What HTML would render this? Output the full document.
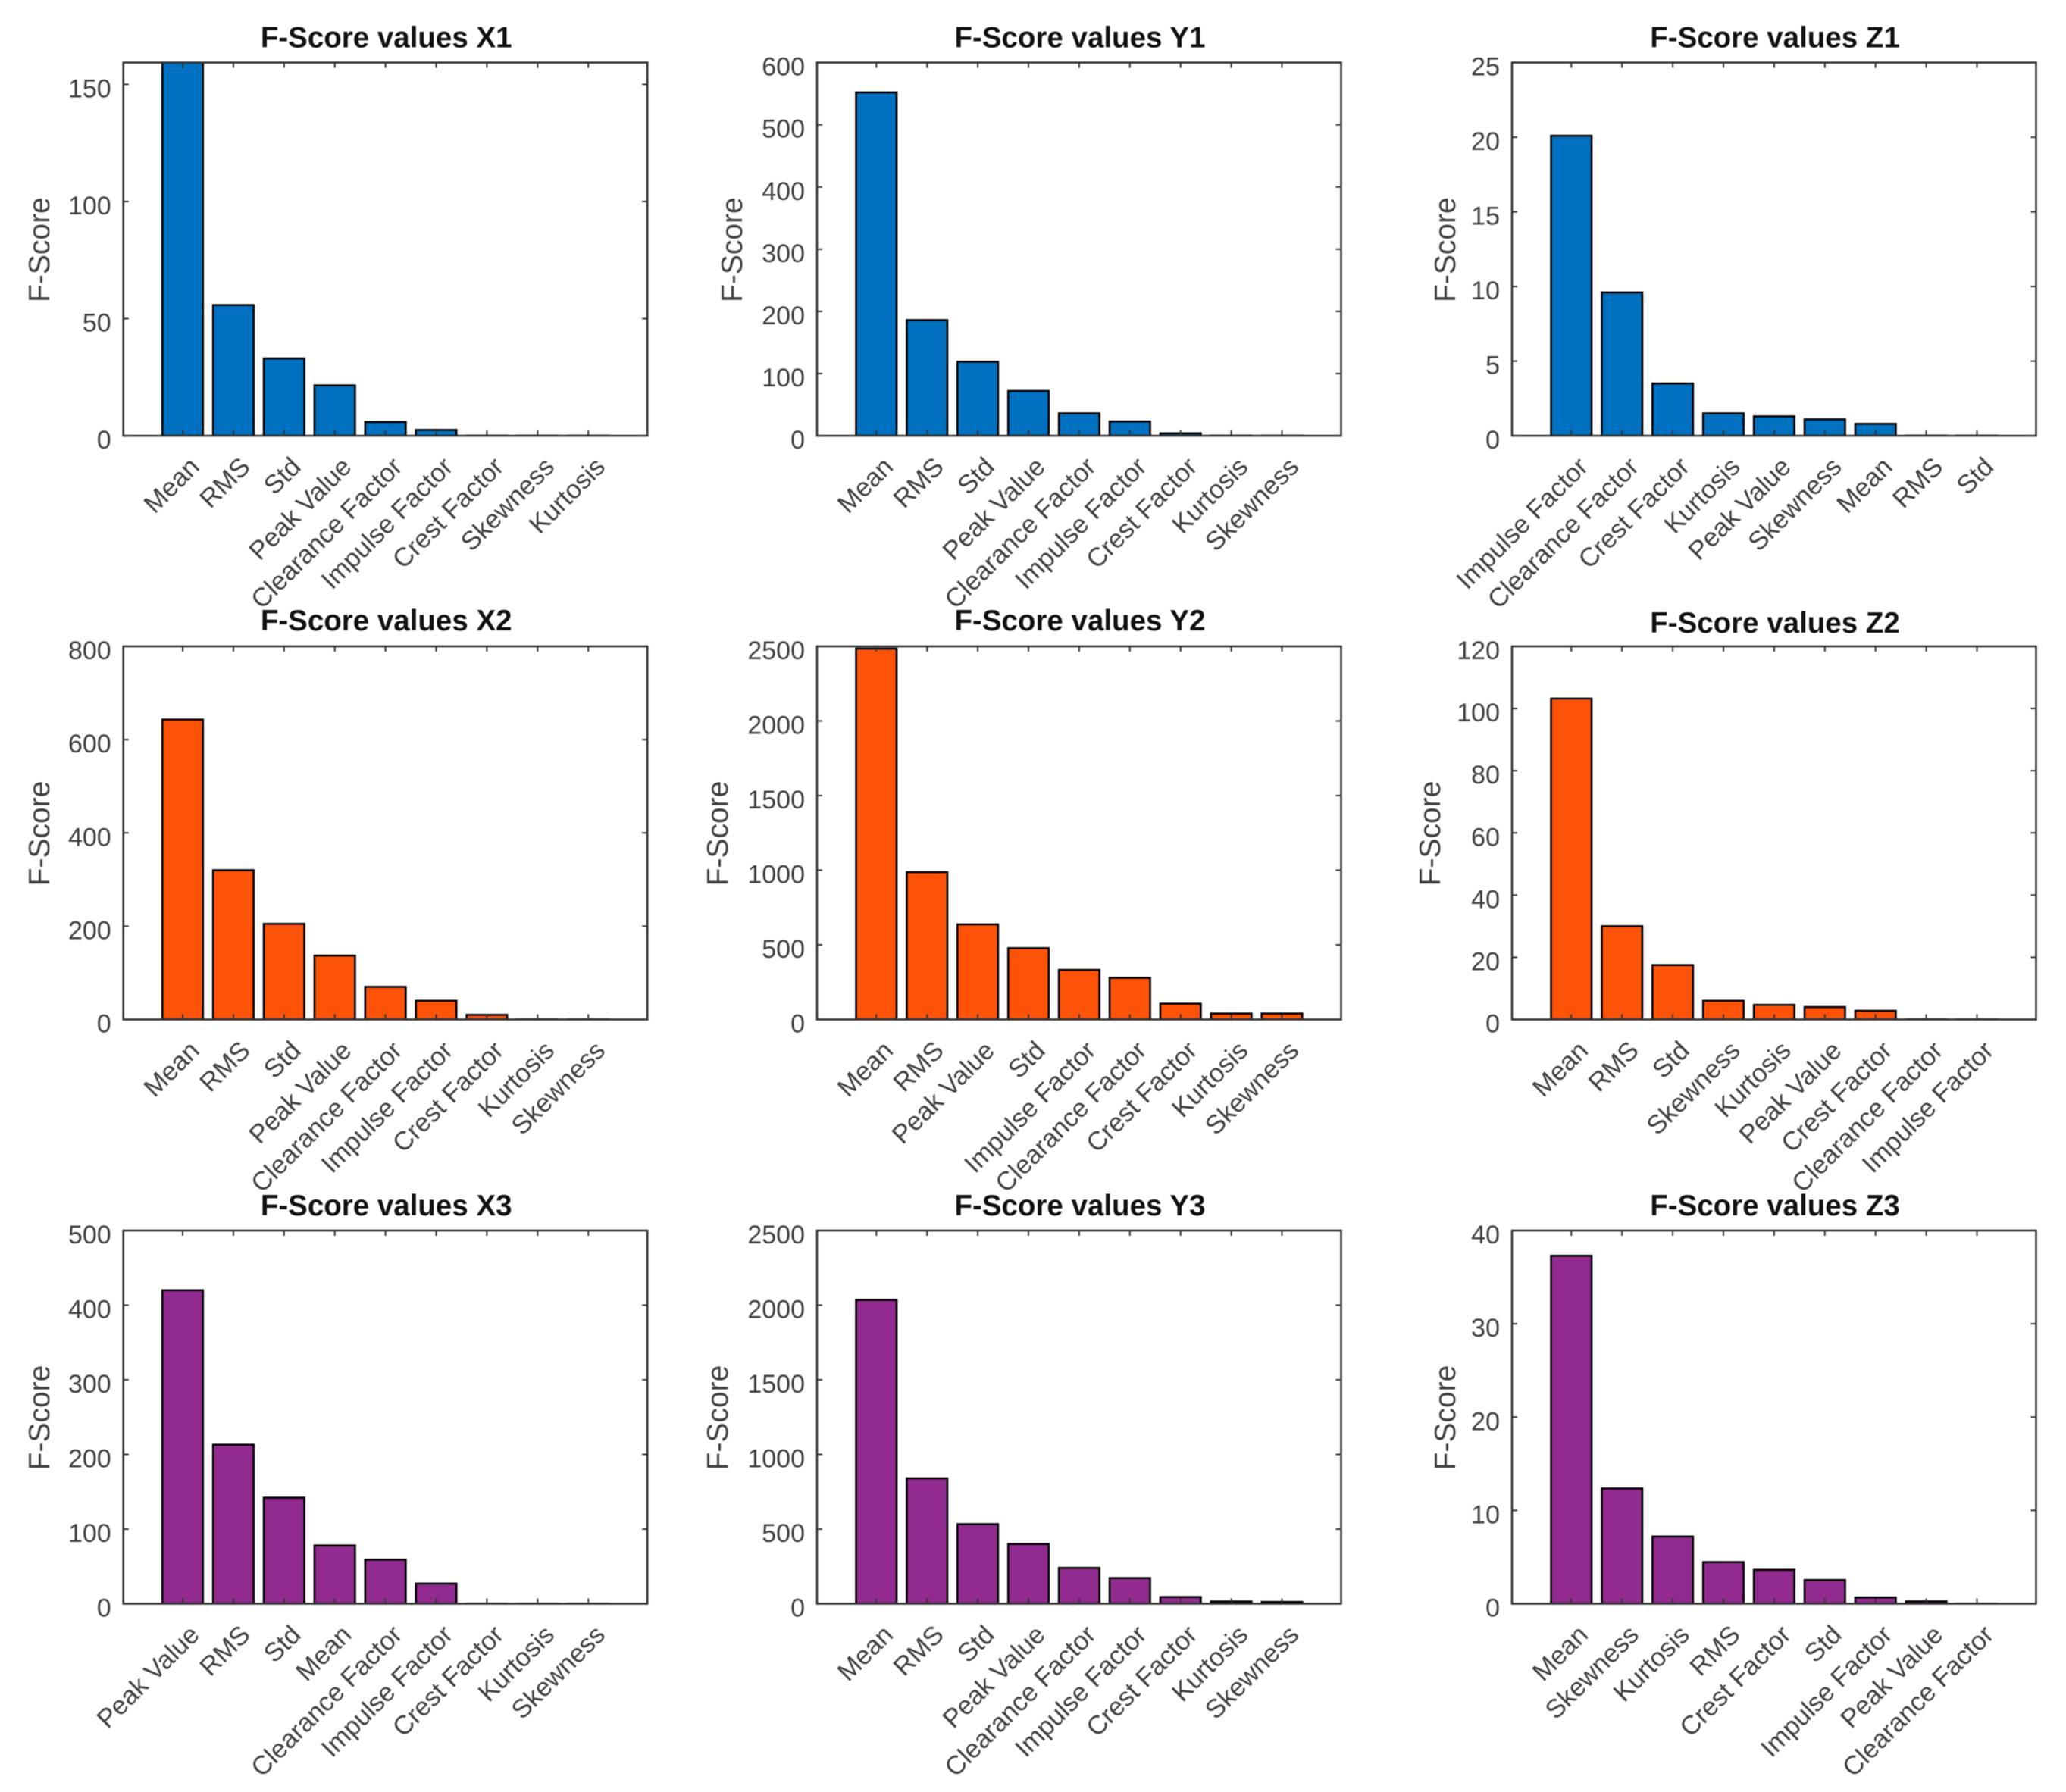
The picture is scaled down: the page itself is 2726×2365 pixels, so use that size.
<!DOCTYPE html>
<html>
<head>
<meta charset="utf-8">
<title>F-Score values</title>
<style>
html,body{margin:0;padding:0;background:#fff;}
#figure{display:block;width:2726px;height:2365px;filter:blur(0.6px);}
text{font-family:"Liberation Sans",Arial,sans-serif;}
</style>
</head>
<body>
<svg id="figure" xmlns="http://www.w3.org/2000/svg" width="2726" height="2365" viewBox="0 0 2726 2365"></svg>
<script>
const categoriesX1 = ['Mean','RMS','Std','Peak Value','Clearance Factor','Impulse Factor','Crest Factor','Skewness','Kurtosis'];
const valuesX1 = [160,55.8,33,21.5,5.9,2.5,0.05,0.03,0.02];
const ticksX1 = [0,50,100,150];
const ymaxX1 = 159.3;

const categoriesY1 = ['Mean','RMS','Std','Peak Value','Clearance Factor','Impulse Factor','Crest Factor','Kurtosis','Skewness'];
const valuesY1 = [552,186,119,72,36,23,4,0.2,0.1];
const ticksY1 = [0,100,200,300,400,500,600];
const ymaxY1 = 600;

const categoriesZ1 = ['Impulse Factor','Clearance Factor','Crest Factor','Kurtosis','Peak Value','Skewness','Mean','RMS','Std'];
const valuesZ1 = [20.1,9.6,3.5,1.5,1.3,1.1,0.8,0.01,0.008];
const ticksZ1 = [0,5,10,15,20,25];
const ymaxZ1 = 25;

const categoriesX2 = ['Mean','RMS','Std','Peak Value','Clearance Factor','Impulse Factor','Crest Factor','Kurtosis','Skewness'];
const valuesX2 = [643,320,205,137,70,40,10,0.3,0.2];
const ticksX2 = [0,200,400,600,800];
const ymaxX2 = 800;

const categoriesY2 = ['Mean','RMS','Peak Value','Std','Impulse Factor','Clearance Factor','Crest Factor','Kurtosis','Skewness'];
const valuesY2 = [2485,987,637,478,332,279,106,40,40];
const ticksY2 = [0,500,1000,1500,2000,2500];
const ymaxY2 = 2500;

const categoriesZ2 = ['Mean','RMS','Std','Skewness','Kurtosis','Peak Value','Crest Factor','Clearance Factor','Impulse Factor'];
const valuesZ2 = [103.2,30,17.5,6,4.7,4,2.8,0.05,0.02];
const ticksZ2 = [0,20,40,60,80,100,120];
const ymaxZ2 = 120;

const categoriesX3 = ['Peak Value','RMS','Std','Mean','Clearance Factor','Impulse Factor','Crest Factor','Kurtosis','Skewness'];
const valuesX3 = [420,213,142,78,59,27,0.2,0.15,0.1];
const ticksX3 = [0,100,200,300,400,500];
const ymaxX3 = 500;

const categoriesY3 = ['Mean','RMS','Std','Peak Value','Clearance Factor','Impulse Factor','Crest Factor','Kurtosis','Skewness'];
const valuesY3 = [2035,840,533,400,240,172,45,15,12];
const ticksY3 = [0,500,1000,1500,2000,2500];
const ymaxY3 = 2500;

const categoriesZ3 = ['Mean','Skewness','Kurtosis','RMS','Crest Factor','Std','Impulse Factor','Peak Value','Clearance Factor'];
const valuesZ3 = [37.3,12.35,7.2,4.46,3.63,2.54,0.67,0.25,0.01];
const ticksZ3 = [0,10,20,30,40];
const ymaxZ3 = 40;

const panels = [
  {id:'x1',title:'F-Score values X1',cats:categoriesX1,vals:valuesX1,ticks:ticksX1,ymax:ymaxX1,col:0,row:0,color:'#0070c0',ylabelX:52,titleDy:0},
  {id:'y1',title:'F-Score values Y1',cats:categoriesY1,vals:valuesY1,ticks:ticksY1,ymax:ymaxY1,col:1,row:0,color:'#0070c0',ylabelX:966,titleDy:0},
  {id:'z1',title:'F-Score values Z1',cats:categoriesZ1,vals:valuesZ1,ticks:ticksZ1,ymax:ymaxZ1,col:2,row:0,color:'#0070c0',ylabelX:1907,titleDy:0},
  {id:'x2',title:'F-Score values X2',cats:categoriesX2,vals:valuesX2,ticks:ticksX2,ymax:ymaxX2,col:0,row:1,color:'#fd5308',ylabelX:52,titleDy:-1},
  {id:'y2',title:'F-Score values Y2',cats:categoriesY2,vals:valuesY2,ticks:ticksY2,ymax:ymaxY2,col:1,row:1,color:'#fd5308',ylabelX:947,titleDy:-1},
  {id:'z2',title:'F-Score values Z2',cats:categoriesZ2,vals:valuesZ2,ticks:ticksZ2,ymax:ymaxZ2,col:2,row:1,color:'#fd5308',ylabelX:1887,titleDy:2},
  {id:'x3',title:'F-Score values X3',cats:categoriesX3,vals:valuesX3,ticks:ticksX3,ymax:ymaxX3,col:0,row:2,color:'#922b8f',ylabelX:52,titleDy:0},
  {id:'y3',title:'F-Score values Y3',cats:categoriesY3,vals:valuesY3,ticks:ticksY3,ymax:ymaxY3,col:1,row:2,color:'#922b8f',ylabelX:947,titleDy:0},
  {id:'z3',title:'F-Score values Z3',cats:categoriesZ3,vals:valuesZ3,ticks:ticksZ3,ymax:ymaxZ3,col:2,row:2,color:'#922b8f',ylabelX:1907,titleDy:0}
];

const colLeft = [162.7,1078,1995];
const rowTop = [82.6,853,1624];
const axW = 691.5;
const axH = 492.5;
const NS = 'http://www.w3.org/2000/svg';
const svg = document.getElementById('figure');

function make(tag, attrs, parent, txt){
  const el = document.createElementNS(NS, tag);
  for (const k in attrs) el.setAttribute(k, attrs[k]);
  if (txt !== undefined) el.textContent = txt;
  parent.appendChild(el);
  return el;
}

function drawPanel(p, idx){
  const L = colLeft[p.col], T = rowTop[p.row], B = T + axH, R = L + axW;
  const unit = 66.9;
  const xScale = i => L + 78.3 + unit * i;
  const yScale = v => B - (v / p.ymax) * axH;

  const g = make('g', {}, svg);
  
  

  const clipId = 'clip-' + p.id;
  const defs = make('defs', {}, g);
  const cp = make('clipPath', {id: clipId}, defs);
  make('rect', {x: L, y: T, width: axW, height: axH}, cp);

  const bars = make('g', {'clip-path': 'url(#' + clipId + ')'}, g);
  
  
  p.vals.forEach((v, i) => {
    const w = unit * 0.8;
    const top = yScale(v);
    const r = make('rect', {x: xScale(i) - w / 2, y: top, width: w, height: B - top, fill: p.color, stroke: '#000', 'stroke-width': 2.6}, bars);
    
    
  });

  const frame = make('rect', {x: L, y: T, width: axW, height: axH, fill: 'none', stroke: '#333', 'stroke-width': 2.6}, g);
  
  

  p.cats.forEach((c, i) => {
    const x = xScale(i);
    make('line', {x1: x, x2: x, y1: B, y2: B - 7, stroke: '#333', 'stroke-width': 2}, g);
    make('line', {x1: x, x2: x, y1: T, y2: T + 7, stroke: '#333', 'stroke-width': 2}, g);
    const ax = x + 24, ay = B + 43;
    const t = make('text', {x: ax, y: ay, 'text-anchor': 'end', 'font-size': 34.5, fill: '#404040', transform: 'rotate(-45 ' + ax + ' ' + ay + ')'}, g, c);
    
    
  });

  p.ticks.forEach((v, i) => {
    const y = yScale(v);
    make('line', {x1: L, x2: L + 7, y1: y, y2: y, stroke: '#333', 'stroke-width': 2}, g);
    make('line', {x1: R, x2: R - 7, y1: y, y2: y, stroke: '#333', 'stroke-width': 2}, g);
    const t = make('text', {x: L - 16, y: y + 17, 'text-anchor': 'end', 'font-size': 34, fill: '#404040'}, g, String(v));
    
    
  });

  const yc = T + 247;
  const yl = make('text', {x: p.ylabelX + 13, y: yc, 'text-anchor': 'middle', 'font-size': 39, fill: '#404040', transform: 'rotate(-90 ' + (p.ylabelX + 13) + ' ' + yc + ')'}, g, 'F-Score');
  
  

  const title = make('text', {x: L + 347, y: T - 20 + p.titleDy, 'text-anchor': 'middle', 'font-size': 38.5, 'font-weight': 'bold', fill: '#111'}, g, p.title);
  
  
}

panels.forEach(drawPanel);
</script>
</body>
</html>
